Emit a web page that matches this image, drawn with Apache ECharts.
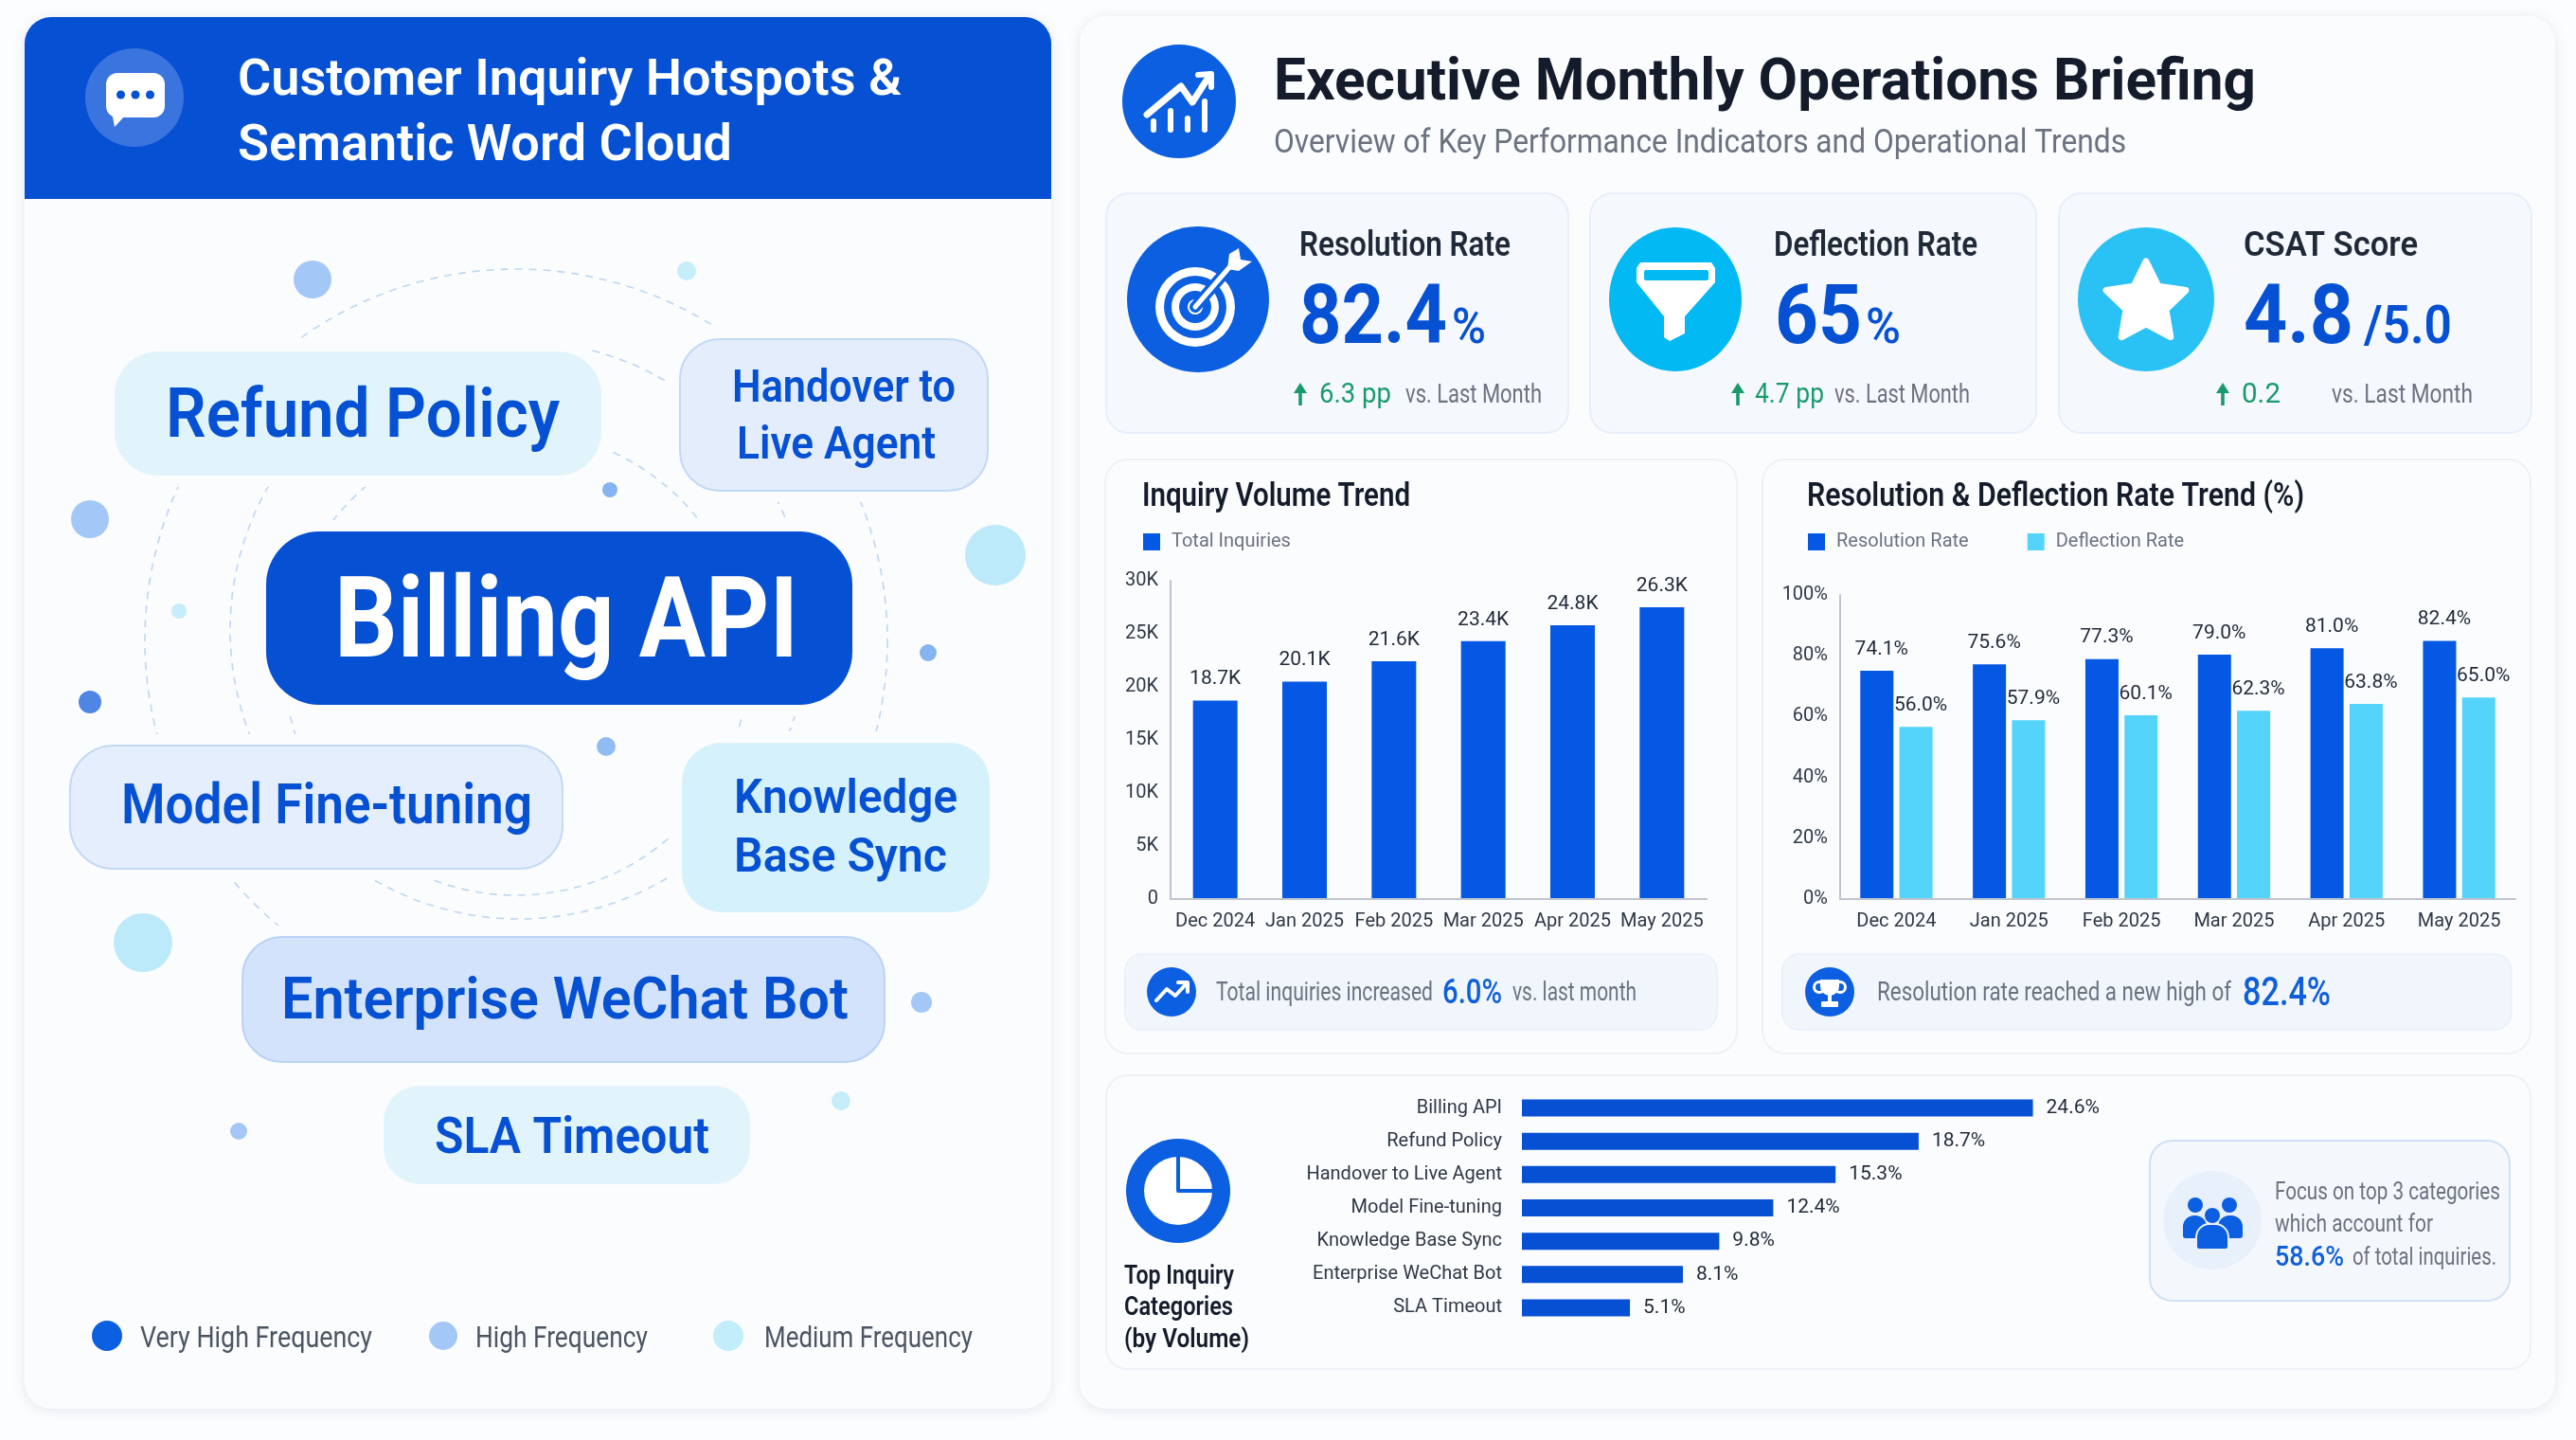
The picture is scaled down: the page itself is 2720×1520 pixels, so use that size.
<!DOCTYPE html>
<html>
<head>
<meta charset="utf-8">
<title>Executive Monthly Operations Briefing</title>
<style>
  html, body { margin: 0; padding: 0; background: #fcfdfe; }
  #main { width: 2720px; height: 1520px; }
</style>
<script src="https://cdn.jsdelivr.net/npm/echarts@6/dist/echarts.min.js"></script>
</head>
<body>
<div id="main"></div>
<script>
// chart data
// the bars in the reference stand a little taller than their printed labels, so heights and labels are kept apart
const months = ['Dec 2024', 'Jan 2025', 'Feb 2025', 'Mar 2025', 'Apr 2025', 'May 2025'];
const inquiryBars = [18.7, 20.5, 22.4, 24.3, 25.8, 27.5];
const inquiryLabels = ['18.7K', '20.1K', '21.6K', '23.4K', '24.8K', '26.3K'];
const resolutionBars = [75.1, 77.2, 78.9, 80.4, 82.5, 84.9];
const resolutionLabels = ['74.1%', '75.6%', '77.3%', '79.0%', '81.0%', '82.4%'];
const deflectionBars = [56.6, 58.8, 60.4, 61.9, 64.2, 66.3];
const deflectionLabels = ['56.0%', '57.9%', '60.1%', '62.3%', '63.8%', '65.0%'];
const categories = ['Billing API', 'Refund Policy', 'Handover to Live Agent', 'Model Fine-tuning', 'Knowledge Base Sync', 'Enterprise WeChat Bot', 'SLA Timeout'];
const categoryBars = [24.6, 19.1, 15.1, 12.1, 9.5, 7.75, 5.2];
const categoryLabels = ['24.6%', '18.7%', '15.3%', '12.4%', '9.8%', '8.1%', '5.1%'];
const frequencyLevels = ['Very High Frequency', 'High Frequency', 'Medium Frequency'];

// colours
const BLUE = '#0558e4';
const DEEP = '#0550d3';
const CYAN = '#55d4fb';
const INK = '#141c2b';
const GREY = '#6b7280';
const AXIS = '#2f3846';
const GREEN = '#1a9a6c';
const PANEL = '#fbfcfe';
const FONT = 'Roboto, "Noto Sans", sans-serif';

const gfx = [];
const measure = document.createElement('canvas').getContext('2d');

// text squeezed to run from x1 to x2, sitting on a baseline
function txt(text, x1, x2, base, size, weight, color) {
  const font = weight + ' ' + size + 'px ' + FONT;
  measure.font = font;
  const natural = measure.measureText(text).width;
  gfx.push({
    type: 'text', x: x1, y: base - size * 0.25, scaleX: (x2 - x1) / natural, z: 5,
    style: { text: text, font: font, fill: color, textAlign: 'left', textVerticalAlign: 'middle' }
  });
}

function box(x1, y1, x2, y2, r, fill, extra) {
  gfx.push({ type: 'rect', z: (extra && extra.z) || 1, shape: { x: x1, y: y1, width: x2 - x1, height: y2 - y1, r: r },
    style: Object.assign({ fill: fill }, extra || {}) });
}

function dot(cx, cy, r, fill, z) {
  gfx.push({ type: 'circle', z: z || 2, shape: { cx: cx, cy: cy, r: r }, style: { fill: fill } });
}

// the KPI badges are slightly taller than wide in the reference
function oval(cx, cy, rx, ry, fill) {
  gfx.push({ type: 'ellipse', z: 2, shape: { cx: cx, cy: cy, rx: rx, ry: ry }, style: { fill: fill } });
}

function ring(cx, cy, r0, r, fill) {
  gfx.push({ type: 'ring', z: 3, shape: { cx: cx, cy: cy, r0: r0, r: r }, style: { fill: fill } });
}

function poly(points, fill) {
  gfx.push({ type: 'polygon', z: 3, shape: { points: points }, style: { fill: fill } });
}

function stroke(points, color, width) {
  gfx.push({ type: 'polyline', z: 3, shape: { points: points },
    style: { stroke: color, lineWidth: width, fill: 'none', lineCap: 'round', lineJoin: 'round' } });
}

const cardShadow = { shadowBlur: 14, shadowColor: 'rgba(40,70,130,0.12)', shadowOffsetY: 2 };

// ---------- left panel ----------
box(26, 18, 1110, 1487, 28, PANEL, cardShadow);
box(26, 18, 1110, 210, [28, 28, 0, 0], DEEP);
dot(142, 103, 52, '#3a74df');
box(112, 77, 174, 124, 12, '#ffffff', { z: 3 });
poly([[118, 118], [132, 122], [121, 134]], '#ffffff');
[127.5, 143, 158.5].forEach(function (x) { dot(x, 100, 4.5, DEEP, 4); });
txt('Customer Inquiry Hotspots &', 251, 952, 100, 54, 600, '#ffffff');
txt('Semantic Word Cloud', 251, 773, 169, 54, 600, '#ffffff');

// dashed orbits behind the word pills
[[545, 676, 392], [548, 665, 305], [545, 700, 245]].forEach(function (c) {
  gfx.push({ type: 'circle', z: 1, shape: { cx: c[0], cy: c[1], r: c[2] },
    style: { fill: 'none', stroke: '#bfd7f1', lineWidth: 1.6, lineDash: [8, 7] } });
});

// loose dots around the cloud
[[330, 295, 20, '#a3c8f7'], [725, 286, 10, '#c5edfa'], [95, 548, 20, '#a3c8f7'], [644, 517, 8, '#86b4f0'],
 [1051, 586, 32, '#bdeafa'], [189, 645, 8, '#c5edfa'], [980, 689, 9, '#86b4f0'], [95, 741, 12, '#4f86e6'],
 [640, 788, 10, '#90bcf3'], [151, 995, 31, '#bdeafa'], [973, 1058, 11, '#a3c8f7'], [888, 1162, 10, '#c5edfa'],
 [252, 1194, 9, '#a3c8f7']].forEach(function (d) { dot(d[0], d[1], d[2], d[3]); });

function pill(x1, y1, x2, y2, r, fill, border) {
  box(x1 - 12, y1 - 12, x2 + 12, y2 + 12, r + 10, PANEL, { z: 2 });
  box(x1, y1, x2, y2, r, fill, { z: 3, stroke: border || fill, lineWidth: border ? 2 : 0 });
}
pill(121, 371, 635, 502, 46, '#e1f4fb');
txt('Refund Policy', 175, 591, 461, 72, 600, DEEP);
pill(718, 358, 1043, 518, 42, '#e3edfb', '#c3d9f6');
txt('Handover to', 773, 1009, 424, 48, 600, DEEP);
txt('Live Agent', 778, 988, 484, 48, 600, DEEP);
pill(281, 561, 900, 744, 56, DEEP);
txt('Billing API', 353, 843, 693, 118, 700, '#ffffff');
pill(74, 787, 594, 917, 46, '#e5eefc', '#c3d9f6');
txt('Model Fine-tuning', 128, 562, 869, 60, 600, DEEP);
pill(720, 784, 1045, 963, 42, '#d5f1fb');
txt('Knowledge', 775, 1011, 858, 50, 600, DEEP);
txt('Base Sync', 775, 1000, 920, 50, 600, DEEP);
pill(256, 989, 934, 1121, 42, '#d2e3fb', '#b9d3f6');
txt('Enterprise WeChat Bot', 297, 896, 1075, 62, 600, DEEP);
pill(405, 1146, 792, 1250, 38, '#e1f4fb');
txt('SLA Timeout', 459, 749, 1217, 54, 600, DEEP);

// frequency key
dot(113, 1410, 16, '#0b5fe0');
txt(frequencyLevels[0], 148, 393, 1422, 31, 400, '#4b5563');
dot(468, 1410, 15, '#a3c8f7');
txt(frequencyLevels[1], 502, 684, 1422, 31, 400, '#4b5563');
dot(769, 1410, 16, '#c2edfa');
txt(frequencyLevels[2], 807, 1027, 1422, 31, 400, '#4b5563');

// ---------- right panel ----------
box(1140, 17, 2698, 1487, 28, PANEL, cardShadow);
dot(1245, 107, 60, '#0b5fe0');
stroke([[1211, 121], [1247, 91], [1259, 108], [1277, 80]], '#ffffff', 7);
stroke([[1265, 79], [1279, 78], [1279, 92]], '#ffffff', 6);
[[1218, 128], [1236, 117], [1254, 125], [1272, 107]].forEach(function (b) {
  stroke([[b[0], b[1]], [b[0], 137]], '#ffffff', 6);
});
txt('Executive Monthly Operations Briefing', 1345, 2382, 105, 62, 700, INK);
txt('Overview of Key Performance Indicators and Operational Trends', 1345, 2245, 161, 35, 400, GREY);

// ---------- KPI cards ----------
const kpiCard = { stroke: '#e8effa', lineWidth: 2, z: 1 };
box(1168, 204, 1656, 457, 24, '#f5f8fd', kpiCard);
box(1679, 204, 2150, 457, 24, '#f5f8fd', kpiCard);
box(2174, 204, 2673, 457, 24, '#f5f8fd', kpiCard);

function upArrow(x) {
  poly([[x - 7, 415], [x, 404], [x + 7, 415]], GREEN);
  box(x - 1.8, 412, x + 1.8, 428, 0, GREEN, { z: 3 });
}

// target icon
oval(1265, 316, 75, 77, '#0b5fe0');
ring(1262, 324, 33, 42, '#ffffff');
ring(1262, 324, 17, 25, '#ffffff');
dot(1262, 324, 8, '#ffffff', 3);
stroke([[1262, 324], [1300, 280]], '#0b5fe0', 12);
stroke([[1262, 324], [1300, 280]], '#ffffff', 5);
poly([[1296, 284], [1298, 268], [1308, 262], [1310, 274], [1322, 276], [1308, 286]], '#ffffff');
txt('Resolution Rate', 1372, 1595, 270, 36, 600, '#1f2937');
txt('82.4', 1372, 1528, 362, 88, 700, DEEP);
txt('%', 1533, 1569, 362, 52, 500, DEEP);
upArrow(1373);
txt('6.3 pp', 1393, 1469, 425, 29, 400, GREEN);
txt('vs. Last Month', 1484, 1628, 425, 27, 400, GREY);

// funnel icon
oval(1769, 316, 70, 76, '#02b9f4');
poly([[1732, 277], [1807, 277], [1811, 283], [1811, 298], [1779, 334], [1779, 352], [1763, 360], [1757, 356], [1757, 334], [1728, 298], [1728, 283]], '#ffffff');
box(1736, 285, 1804, 296, 2, '#02b9f4', { z: 4 });
txt('Deflection Rate', 1873, 2088, 270, 36, 600, '#1f2937');
txt('65', 1874, 1966, 362, 88, 700, DEEP);
txt('%', 1970, 2007, 362, 52, 500, DEEP);
upArrow(1835);
txt('4.7 pp', 1853, 1926, 425, 29, 400, GREEN);
txt('vs. Last Month', 1937, 2080, 425, 27, 400, GREY);

// star icon
oval(2266, 316, 72, 76, '#2ac2f5');
const starPoints = [];
for (let i = 0; i < 10; i++) {
  const radius = i % 2 ? 22 : 44;
  const angle = -Math.PI / 2 + i * Math.PI / 5;
  starPoints.push([2266 + radius * Math.cos(angle), 320 + radius * Math.sin(angle)]);
}
gfx.push({ type: 'polygon', z: 3, shape: { points: starPoints },
  style: { fill: '#ffffff', stroke: '#ffffff', lineWidth: 7, lineJoin: 'round' } });
txt('CSAT Score', 2369, 2553, 270, 36, 600, '#1f2937');
txt('4.8', 2369, 2485, 362, 88, 700, DEEP);
txt('/5.0', 2496, 2589, 362, 56, 600, DEEP);
upArrow(2347);
txt('0.2', 2367, 2408, 425, 29, 400, GREEN);
txt('vs. Last Month', 2462, 2611, 425, 27, 400, GREY);

// ---------- chart cards ----------
const chartCard = { stroke: '#eef2f8', lineWidth: 2, z: 1 };
box(1167, 485, 1834, 1112, 24, PANEL, chartCard);
box(1861, 485, 2672, 1112, 24, PANEL, chartCard);
txt('Inquiry Volume Trend', 1206, 1489, 534, 35, 600, INK);
txt('Resolution & Deflection Rate Trend (%)', 1908, 2433, 534, 35, 600, INK);

// callout under the volume chart
box(1188, 1007, 1813, 1087, 18, '#f1f6fd', { stroke: '#e9f0fa', lineWidth: 1.5, z: 1 });
dot(1237, 1047, 26, '#0b5fe0');
stroke([[1221, 1056], [1232, 1044], [1241, 1051], [1253, 1038]], '#ffffff', 4);
stroke([[1244, 1037], [1254, 1037], [1254, 1047]], '#ffffff', 4);
txt('Total inquiries increased', 1284, 1513, 1056, 28, 400, GREY);
txt('6.0%', 1523, 1586, 1059, 37, 500, '#0f5fd8');
txt('vs. last month', 1597, 1728, 1056, 28, 400, GREY);

// callout under the rate chart
box(1882, 1007, 2652, 1087, 18, '#f1f6fd', { stroke: '#e9f0fa', lineWidth: 1.5, z: 1 });
dot(1932, 1047, 26, '#0b5fe0');
ring(1921, 1042, 4, 7, '#ffffff');
ring(1943, 1042, 4, 7, '#ffffff');
box(1922, 1034, 1942, 1051, [0, 0, 10, 10], '#ffffff', { z: 3 });
box(1930, 1050, 1934, 1058, 0, '#ffffff', { z: 3 });
box(1923, 1057, 1941, 1063, 1, '#ffffff', { z: 3 });
txt('Resolution rate reached a new high of', 1982, 2356, 1056, 28, 400, GREY);
txt('82.4%', 2368, 2461, 1061, 42, 500, '#0f5fd8');

// ---------- categories card ----------
box(1168, 1135, 2672, 1445, 22, PANEL, { stroke: '#eef2f8', lineWidth: 2, z: 1 });
dot(1244, 1257, 55, '#0b5fe0');
dot(1244, 1257, 36, '#ffffff', 3);
stroke([[1244, 1219], [1244, 1257], [1282, 1257]], '#0b5fe0', 4);
txt('Top Inquiry', 1187, 1303, 1355, 28, 600, INK);
txt('Categories', 1187, 1302, 1388, 28, 600, INK);
txt('(by Volume)', 1187, 1319, 1422, 28, 600, INK);

box(2270, 1204, 2650, 1373, 24, '#f4f8fd', { stroke: '#cfe0f7', lineWidth: 2, z: 1 });
dot(2336, 1288, 52, '#e8f0fb');
dot(2318, 1272, 8, '#0b5fe0', 3);
dot(2354, 1272, 8, '#0b5fe0', 3);
dot(2336, 1283, 8, '#0b5fe0', 3);
box(2305, 1283, 2330, 1307, [12, 12, 3, 3], '#0b5fe0', { z: 3 });
box(2342, 1283, 2368, 1307, [12, 12, 3, 3], '#0b5fe0', { z: 3 });
box(2319, 1292, 2353, 1319, [14, 14, 3, 3], '#0b5fe0', { z: 4, stroke: '#e8f0fb', lineWidth: 2 });
txt('Focus on top 3 categories', 2402, 2640, 1266, 26, 400, GREY);
txt('which account for', 2402, 2569, 1300, 26, 400, GREY);
txt('58.6%', 2402, 2475, 1336, 29, 500, '#0f5fd8');
txt('of total inquiries.', 2484, 2636, 1335, 26, 400, GREY);

// ---------- ECharts ----------
function legendStyle(left, gap) {
  return {
    left: left, top: 562, padding: 0, icon: 'rect', itemWidth: 18, itemHeight: 18, itemGap: gap,
    textStyle: { fontFamily: FONT, fontSize: 20, color: GREY, padding: [0, 0, 0, 7] }
  };
}

function catAxis(gridIndex) {
  return {
    type: 'category', gridIndex: gridIndex, data: months, z: 10,
    axisTick: { show: false },
    axisLine: { show: true, lineStyle: { color: '#bfc5cf', width: 2 } },
    axisLabel: { fontFamily: FONT, fontSize: 20, color: AXIS, margin: 14, interval: 0 }
  };
}

function valAxis(gridIndex, max, interval, formatter) {
  return {
    type: 'value', gridIndex: gridIndex, min: 0, max: max, interval: interval, z: 10,
    splitLine: { show: false }, axisTick: { show: false },
    axisLine: { show: true, lineStyle: { color: '#bfc5cf', width: 2 } },
    axisLabel: { fontFamily: FONT, fontSize: 20, color: AXIS, margin: 13, formatter: formatter }
  };
}

function valueLabel(labels, position, distance, offset) {
  return {
    show: true, position: position, distance: distance, offset: offset || [0, 0],
    fontFamily: FONT, fontSize: 21, color: '#1f2937',
    formatter: function (p) { return labels[p.dataIndex]; }
  };
}

const option = {
  backgroundColor: '#fcfdfe',
  animation: false,
  graphic: { elements: gfx },
  legend: [
    Object.assign({ data: ['Total Inquiries'] }, legendStyle(1207, 20)),
    Object.assign({ data: ['Resolution Rate', 'Deflection Rate'] }, legendStyle(1909, 62))
  ],
  grid: [
    { left: 1236, top: 613, width: 566, height: 336 },
    { left: 1943, top: 628, width: 713, height: 321 },
    { left: 1607, top: 1152, width: 658, height: 246 }
  ],
  xAxis: [
    catAxis(0),
    catAxis(1),
    { type: 'value', gridIndex: 2, min: 0, max: 30, show: false }
  ],
  yAxis: [
    valAxis(0, 30, 5, function (v) { return v === 0 ? '0' : v + 'K'; }),
    valAxis(1, 100, 20, '{value}%'),
    {
      type: 'category', gridIndex: 2, data: categories, inverse: true, z: 10,
      axisLine: { show: false }, axisTick: { show: false },
      axisLabel: { fontFamily: FONT, fontSize: 20, color: AXIS, margin: 21, interval: 0 }
    }
  ],
  series: [
    {
      name: 'Total Inquiries', type: 'bar', xAxisIndex: 0, yAxisIndex: 0, data: inquiryBars,
      barWidth: 47, itemStyle: { color: BLUE }, label: valueLabel(inquiryLabels, 'top', 12)
    },
    {
      name: 'Resolution Rate', type: 'bar', xAxisIndex: 1, yAxisIndex: 1, data: resolutionBars,
      barWidth: 35, barGap: '18%', itemStyle: { color: BLUE }, label: valueLabel(resolutionLabels, 'top', 12, [5, 0])
    },
    {
      name: 'Deflection Rate', type: 'bar', xAxisIndex: 1, yAxisIndex: 1, data: deflectionBars,
      barWidth: 35, barGap: '18%', itemStyle: { color: CYAN }, label: valueLabel(deflectionLabels, 'top', 12, [5, 0])
    },
    {
      name: 'Share of Inquiries', type: 'bar', xAxisIndex: 2, yAxisIndex: 2, data: categoryBars,
      barWidth: 18, itemStyle: { color: DEEP }, label: valueLabel(categoryLabels, 'right', 14)
    }
  ]
};

const chart = echarts.init(document.getElementById('main'));
chart.setOption(option);
</script>
</body>
</html>
